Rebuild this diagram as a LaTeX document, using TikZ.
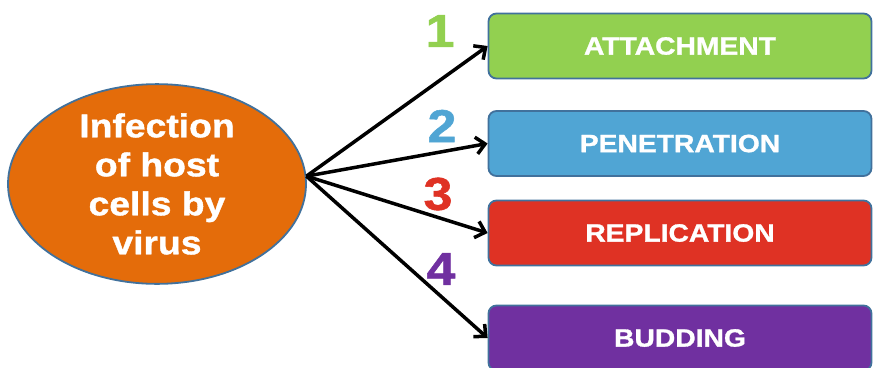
\documentclass[tikz,border=0pt]{standalone}
\usepackage{fontspec}
\setmainfont{Liberation Sans}[FakeStretch=1.13,BoldFeatures={FakeBold=1.2}]
\usetikzlibrary{arrows.meta,shapes.geometric}
\definecolor{edgeblue}{HTML}{41719C}
\definecolor{virusorange}{HTML}{E46C0A}
\definecolor{stepgreen}{HTML}{92D050}
\definecolor{stepblue}{HTML}{50A5D4}
\definecolor{stepred}{HTML}{DF3224}
\definecolor{steppurple}{HTML}{7030A0}

\begin{document}
\begin{tikzpicture}[x=1pt,y=-1pt,
	stage/.style={rectangle,rounded corners=8pt,draw=edgeblue,line width=1.8pt,minimum width=383pt,minimum height=65pt,text=white,font=\fontsize{25}{28}\selectfont\bfseries},
	stepnum/.style={font=\fontsize{46}{50}\selectfont\bfseries}]
	\useasboundingbox (0,0) rectangle (873,367);
	\node (virus) at (157,184) [ellipse,draw=edgeblue,fill=virusorange,line width=1.8pt,minimum width=298pt,minimum height=192pt,inner sep=0pt,align=center,text=white,font=\fontsize{33}{39}\selectfont\bfseries] {Infection\\of host\\cells by\\virus};
	\node (att) at (680,46) [stage,fill=stepgreen] {ATTACHMENT};
	\node (pen) at (680,143.5) [stage,fill=stepblue] {PENETRATION};
	\node (rep) at (680,233) [stage,fill=stepred] {REPLICATION};
	\node (bud) at (680,338) [stage,fill=steppurple] {BUDDING};
	\node (n1) at (440,31) [stepnum,text=stepgreen] {1};
	\node (n2) at (442,126) [stepnum,text=stepblue] {2};
	\node (n3) at (438,194) [stepnum,text=stepred] {3};
	\node (n4) at (441,269) [stepnum,text=steppurple] {4};
	\draw [line width=3.5pt,-{Straight Barb[length=9pt,width=17pt]}] (virus.3) -- (att.west);
	\draw [line width=3.5pt,-{Straight Barb[length=9pt,width=17pt]}] (virus.3) -- (pen.west);
	\draw [line width=3.5pt,-{Straight Barb[length=9pt,width=17pt]}] (virus.3) -- (rep.west);
	\draw [line width=3.5pt,-{Straight Barb[length=9pt,width=17pt]}] (virus.3) -- (bud.west);
\end{tikzpicture}
\end{document}
